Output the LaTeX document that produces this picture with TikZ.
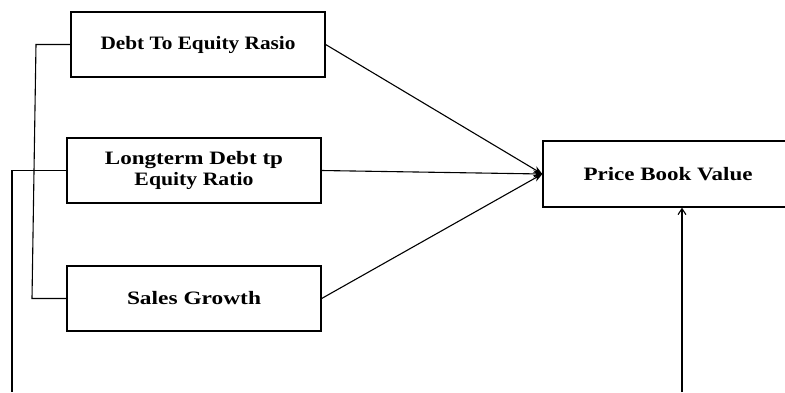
\documentclass[tikz,border=0pt]{standalone}
\usepackage{graphicx}
\usepackage{fontspec}
\setmainfont{Liberation Serif}
\usetikzlibrary{arrows.meta}
\begin{document}
\begin{tikzpicture}[x=1bp,y=-1bp,
  box/.style={draw,line width=1.3bp,minimum width=254bp,minimum height=65bp,inner sep=0pt,
    font=\fontsize{19}{21}\selectfont\bfseries,align=center},
  link/.style={line width=1.1bp},
  arr/.style={link,-{Stealth[length=9bp,width=7bp]}},
  arrup/.style={link,-{Straight Barb[length=6bp,width=8bp]}}]
\useasboundingbox (0,0) rectangle (785,392);
\fill[white] (0,0) rectangle (785,392);
\clip (0,0) rectangle (785,392);
\node[box] (der) at (198,44.5) {\resizebox{195bp}{\height}{Debt To Equity Rasio}};
\node[box] (ldr) at (194,170.5) {\resizebox{178bp}{\height}{Longterm Debt tp}\\\resizebox{119bp}{\height}{Equity Ratio}};
\node[box] (sg) at (194,298.5) {\resizebox{134bp}{\height}{Sales Growth}};
\node[box,minimum width=250bp,minimum height=66bp] (pbv) at (668,174) {\resizebox{169bp}{\height}{Price Book Value}};
\coordinate (a1) at (36,44.5);
\coordinate (a2) at (32,298.5);
\coordinate (b1) at (12,170.5);
\coordinate (b2) at (12,392);
\coordinate (c1) at (682,392);
\draw[link] (der.west) -- (a1) -- (a2) -- (sg.west);
\draw[link] (ldr.west) -- (b1) -- (b2);
\draw[arrup] (c1) -- (c1 |- pbv.south);
\draw[arr] (der.east) -- (pbv.west);
\draw[arr] (ldr.east) -- (pbv.west);
\draw[arr] (sg.east) -- (pbv.west);
\end{tikzpicture}
\end{document}
